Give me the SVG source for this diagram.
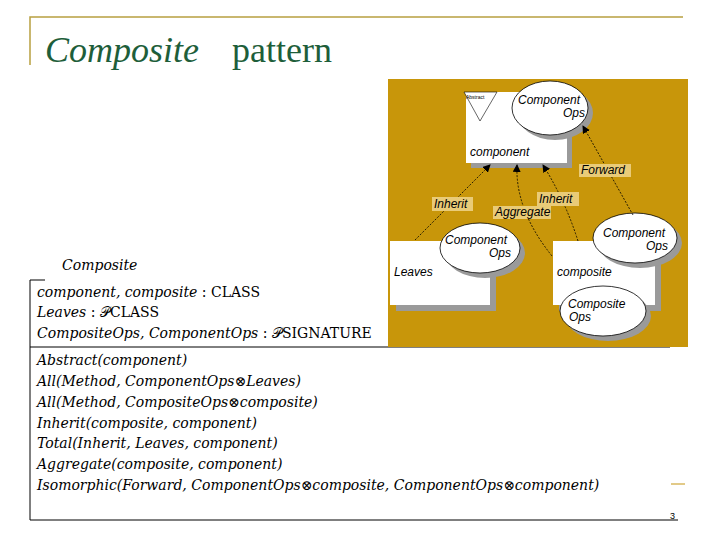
<svg xmlns="http://www.w3.org/2000/svg" width="720" height="540" viewBox="0 0 720 540">
<style>
.m{font-family:"DejaVu Serif",serif;font-style:italic;font-size:14px;fill:#000}
.u{font-style:normal}
.t{font-family:"Liberation Serif","Times New Roman",serif;font-size:36px;fill:#1E5E3A}
.d{font-family:"Liberation Sans",Arial,sans-serif;font-style:italic;font-size:12px;fill:#000}
.lbl{fill:#E9CB78}
.box{fill:#fff}
.sh{fill:#9a9a9a}
.el{fill:#fff;stroke:#000;stroke-width:0.8}
.c{stroke:#000;stroke-width:0.8;stroke-dasharray:2 1.5;fill:none;marker-end:url(#a)}
</style>
<defs><marker id="a" markerWidth="8" markerHeight="8" refX="7" refY="4" orient="auto" markerUnits="userSpaceOnUse"><path d="M0,0L8,4L0,8z" fill="#000"/></marker></defs>
<rect width="720" height="540" fill="#fff"/>
<path d="M30,65V17H683" fill="none" stroke="#B8A040" stroke-width="1.5"/>
<text class="t" x="45" y="62" font-style="italic">Composite</text>
<text class="t" x="232" y="62">pattern</text>
<g id="schema">
<text class="m" x="62" y="270" font-size="13">Composite</text>
<path d="M45,280H30V520H678M30,347H670" fill="none" stroke="#000" stroke-width="1"/>
<text class="m" x="37" y="297">component, composite <tspan class="u">: CLASS</tspan></text>
<text class="m" x="37" y="317">Leaves <tspan class="u">: 𝒫CLASS</tspan></text>
<text class="m" x="37" y="338">CompositeOps, ComponentOps <tspan class="u">: 𝒫SIGNATURE</tspan></text>
<text class="m" x="37" y="365">Abstract(component)</text>
<text class="m" x="37" y="386">All(Method, ComponentOps⊗Leaves)</text>
<text class="m" x="37" y="407">All(Method, CompositeOps⊗composite)</text>
<text class="m" x="37" y="428">Inherit(composite, component)</text>
<text class="m" x="37" y="448">Total(Inherit, Leaves, component)</text>
<text class="m" x="37" y="469">Aggregate(composite, component)</text>
<text class="m" x="37" y="490">Isomorphic(Forward, ComponentOps⊗composite, ComponentOps⊗component)</text>
<text x="670" y="519" font-family="Liberation Sans,sans-serif" font-size="9">3</text>
<path d="M671,484H685" stroke="#D8B860" stroke-width="1.5"/>
</g>
<rect x="388" y="79" width="300" height="268" fill="#C8960A"/>
<g id="component">
<rect class="sh" x="471" y="97" width="101" height="71"/>
<rect class="box" x="466" y="92" width="101" height="71"/>
<path d="M464,92H497L480,121Z" fill="#fff" stroke="#000" stroke-width="0.6"/>
<text x="466" y="99" font-family="Liberation Sans,sans-serif" font-size="5">Abstract</text>
<text class="d" x="470" y="156">component</text>
<ellipse class="sh" cx="555" cy="113" rx="38" ry="27"/>
<ellipse class="el" cx="550" cy="108" rx="38" ry="27"/>
<text class="d" x="518" y="104">Component</text>
<text class="d" x="563" y="117">Ops</text>
</g>
<g id="leaves">
<rect class="sh" x="396" y="247" width="100" height="64"/>
<rect class="box" x="390" y="241" width="100" height="64"/>
<text class="d" x="394" y="276">Leaves</text>
<ellipse class="sh" cx="485" cy="253" rx="40" ry="25"/>
<ellipse class="el" cx="480" cy="248" rx="40" ry="25"/>
<text class="d" x="445" y="244">Component</text>
<text class="d" x="489" y="257">Ops</text>
</g>
<g id="composite">
<rect class="sh" x="559" y="247" width="102" height="64"/>
<rect class="box" x="553" y="241" width="102" height="64"/>
<text class="d" x="557" y="276">composite</text>
<ellipse class="sh" cx="640" cy="243" rx="42" ry="25"/>
<ellipse class="el" cx="635" cy="238" rx="42" ry="25"/>
<text class="d" x="603" y="237">Component</text>
<text class="d" x="646" y="250">Ops</text>
<ellipse class="sh" cx="608" cy="316" rx="43" ry="25"/>
<ellipse class="el" cx="603" cy="311" rx="43" ry="25"/>
<text class="d" x="568" y="308">Composite</text>
<text class="d" x="569" y="321">Ops</text>
</g>
<g id="connectors">
<path class="c" d="M415,240L490,165"/>
<path class="c" d="M552,256Q515,210 517,165"/>
<path class="c" d="M578,241Q565,200 543,165"/>
<path class="c" d="M633,215L583,126"/>
<rect class="lbl" x="432" y="197" width="41" height="14"/>
<text class="d" x="434" y="208">Inherit</text>
<rect class="lbl" x="493" y="206" width="58" height="13"/>
<text class="d" x="495" y="216">Aggregate</text>
<rect class="lbl" x="537" y="192" width="42" height="14"/>
<text class="d" x="539" y="203">Inherit</text>
<rect class="lbl" x="579" y="164" width="52" height="13"/>
<text class="d" x="581" y="174">Forward</text>
</g>
</svg>
